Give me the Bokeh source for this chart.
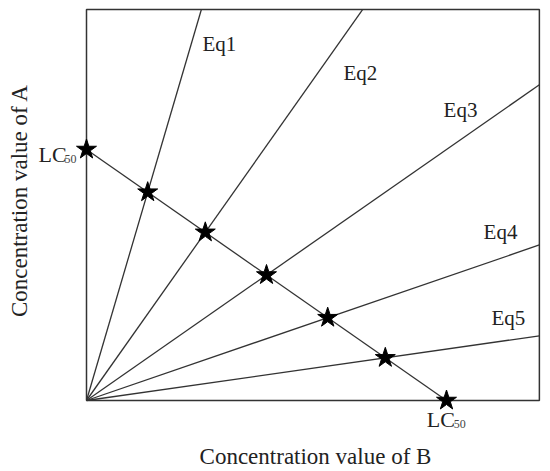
import math
from bokeh.plotting import figure
from bokeh.models import Range1d, Label
from bokeh.embed import file_html
from bokeh.resources import INLINE

# ---- data ----
lc50_a = 1.0          # LC50 of A (on the A axis)
lc50_b = 1.0          # LC50 of B (on the B axis)
star_b = [0.17, 0.33, 0.50, 0.67, 0.83]   # mixture points, B value
star_a = [0.83, 0.67, 0.50, 0.33, 0.17]   # mixture points, A value
eq_names = ["Eq1", "Eq2", "Eq3", "Eq4", "Eq5"]

# plotting box (data units)
X_MAX = 1.258
Y_MAX = 1.558

FONT = "Liberation Serif"
LINE = "#333333"
TXT = "#222222"

# the whole canvas is the data frame; the visible box is drawn as lines
p = figure(width=550, height=471, output_backend="svg", toolbar_location=None,
           x_range=Range1d(-86 / 360, (550 - 86) / 360),
           y_range=Range1d((400 - 471) / 251, 400 / 251),
           min_border_left=0, min_border_right=0, min_border_top=0, min_border_bottom=0)
p.axis.visible = False
p.grid.visible = False
p.outline_line_color = None
p.background_fill_color = "white"
p.border_fill_color = "white"

# box
p.line([0, X_MAX, X_MAX, 0, 0], [0, 0, Y_MAX, Y_MAX, 0], line_color=LINE, line_width=1.5)

# ray lines from origin through each mixture point to the box edge
for b, a in zip(star_b, star_a):
    t = min(X_MAX / b, Y_MAX / a)
    p.line([0, b * t], [0, a * t], line_color=LINE, line_width=1.3)

# isobole line joining the two LC50 values
p.line([0, lc50_b], [lc50_a, 0], line_color=LINE, line_width=1.3)

# stars
p.scatter(star_b + [0, lc50_b], star_a + [lc50_a, 0], marker="star", size=21,
          fill_color="black", line_color="black")

# Eq labels
eq_pos = [(0.322, 1.422), (0.714, 1.303), (0.992, 1.159), (1.103, 0.673), (1.125, 0.327)]
for name, (x, y) in zip(eq_names, eq_pos):
    p.add_layout(Label(x=x, y=y, text=name, text_font=FONT, text_font_size="21px",
                       text_color=TXT, text_baseline="middle", text_align="left"))

# LC50 labels
for (x, y, xs, ys) in [(-0.133, 0.980, -0.061, 0.962), (0.945, -0.076, 1.020, -0.092)]:
    p.add_layout(Label(x=x, y=y, text="LC", text_font=FONT, text_font_size="22px",
                       text_color=TXT, text_baseline="alphabetic", text_align="left"))
    p.add_layout(Label(x=xs, y=ys, text="50", text_font=FONT, text_font_size="12px",
                       text_color="#444444", text_baseline="alphabetic", text_align="left"))

# axis titles
p.add_layout(Label(x=(315 - 86) / 360, y=(400 - 456) / 251, text="Concentration value of B",
                   text_font=FONT, text_font_size="23px", text_color=TXT,
                   text_align="center", text_baseline="middle"))
p.add_layout(Label(x=(19 - 86) / 360, y=(400 - 200) / 251, text="Concentration value of A",
                   angle=math.pi / 2,
                   text_font=FONT, text_font_size="23px", text_color=TXT,
                   text_align="center", text_baseline="middle"))

open("out.html", "w").write(file_html(p, INLINE))
